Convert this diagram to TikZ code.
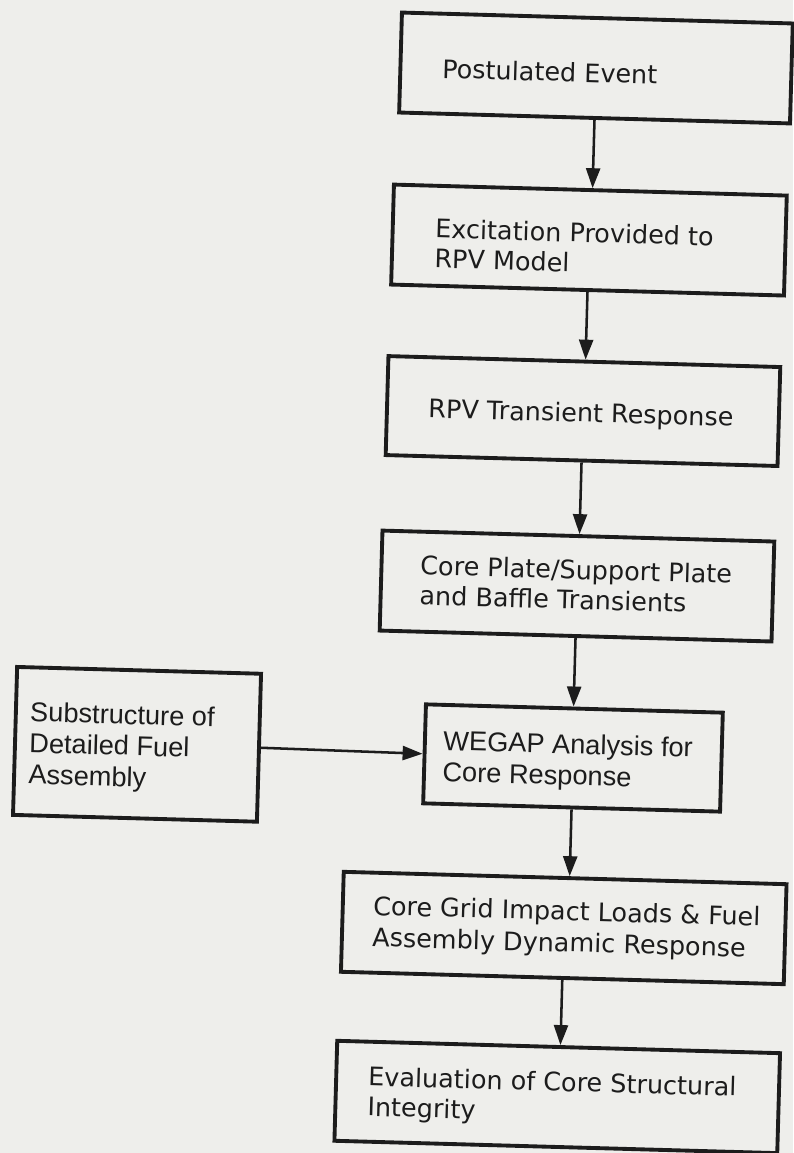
\documentclass[tikz,border=0pt]{standalone}
\usepackage{fontspec}
\setmainfont{DejaVu Sans}
\newfontfamily\libfont{Liberation Sans}
\usetikzlibrary{arrows.meta}
\definecolor{paper}{RGB}{238,238,235}
\definecolor{ink}{RGB}{28,28,28}
\begin{document}
\begin{tikzpicture}[x=0.75pt,y=-0.75pt,
  boxn/.style={draw=ink, line width=2.9pt, rectangle, inner sep=0pt, transform shape},
  maintext/.style={anchor=base west, inner sep=0pt, align=left, text=ink, transform shape,
    font={\fontsize{19.1pt}{22.5pt}\selectfont}},
  alttext/.style={anchor=base west, inner sep=0pt, align=left, text=ink, transform shape,
    font={\libfont\fontsize{20.4pt}{23.4pt}\selectfont}},
  arr/.style={draw=ink, line width=1.9pt, -{Triangle[length=15pt,width=10.5pt]}}]
\useasboundingbox (0,0) rectangle (793,1153);
\fill[paper] (0,0) rectangle (793,1153);
\begin{scope}[rotate around={-1.6:(396.5,576.5)}]
  % boxes
  \node[boxn, minimum width=293.25pt, minimum height=75pt] (b1) at (581.7,62.6) {};
  \node[boxn, minimum width=294.75pt, minimum height=75pt] (b2) at (579.5,234.8) {};
  \node[boxn, minimum width=294pt, minimum height=74.25pt] (b3) at (578.3,405.9) {};
  \node[boxn, minimum width=294pt, minimum height=75pt] (b4) at (577.2,581) {};
  \node[boxn, minimum width=222.75pt, minimum height=74.25pt] (bw) at (578,753) {};
  \node[boxn, minimum width=183pt, minimum height=111pt] (bl) at (141.8,751.5) {};
  \node[boxn, minimum width=332.25pt, minimum height=75pt] (b6) at (573.5,923.2) {};
  \node[boxn, minimum width=332.25pt, minimum height=75pt] (b7) at (571.7,1092.3) {};
  % texts (anchor = baseline of the last line)
  \node[maintext] (t1) at (428,77) {Postulated Event};
  \node[maintext] (t2) at (425.4,267) {Excitation Provided to\\RPV Model};
  \node[maintext] (t3) at (423.5,417) {RPV Transient Response};
  \node[maintext] (t4) at (419.9,604) {Core Plate/Support Plate\\and Baffle Transients};
  \node[alttext] (tw) at (447.8,780) {WEGAP Analysis for\\Core Response};
  \node[alttext] (tl) at (33.9,794) {Substructure of\\Detailed Fuel\\Assembly};
  \node[maintext, font={\fontsize{19.1pt}{23.6pt}\selectfont}] (t6) at (382.2,947) {Core Grid Impact Loads \& Fuel\\Assembly Dynamic Response};
  \node[maintext] (t7) at (382.1,1116.5) {Evaluation of Core Structural\\Integrity};
  % connectors
  \draw[arr] (b1.south) -- (b1.south |- b2.north);
  \draw[arr] (b2.south) -- (b2.south |- b3.north);
  \draw[arr] (b3.south) -- (b3.south |- b4.north);
  \draw[arr] (b4.south) -- (b4.south |- bw.north);
  \draw[arr] (bw.south) -- (bw.south |- b6.north);
  \draw[arr] (b6.south) -- (b6.south |- b7.north);
  \draw[arr] (bl.east) -- (bw.west);
\end{scope}
\end{tikzpicture}
\end{document}
